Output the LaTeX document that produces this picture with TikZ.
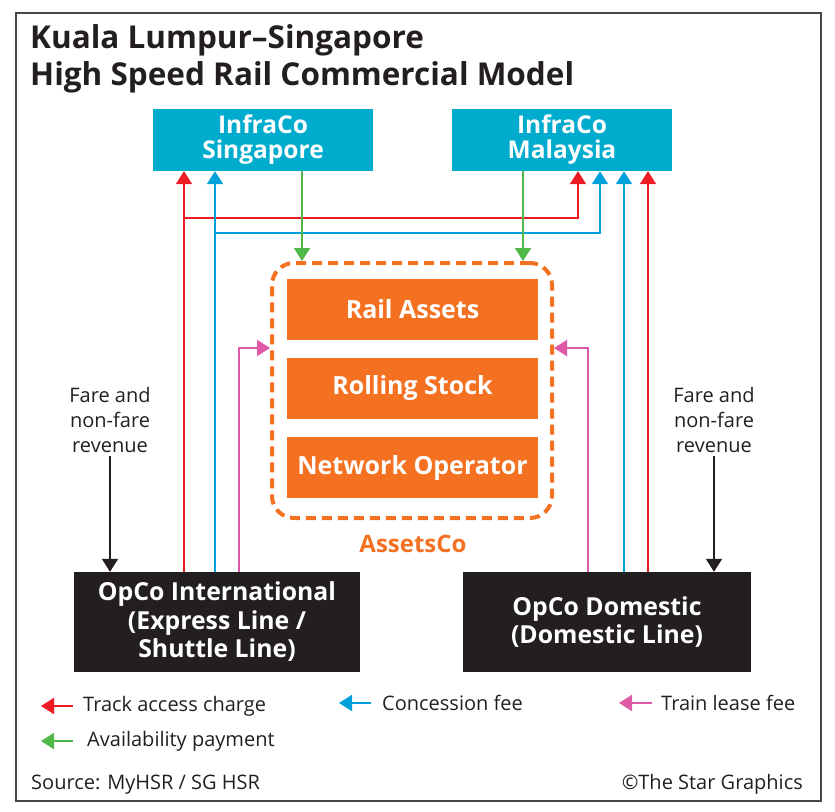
\documentclass[tikz,border=0pt]{standalone}
\usepackage{fontspec}
\setmainfont{Open Sans}
\usetikzlibrary{positioning,calc,arrows.meta}
\definecolor{infracyan}{RGB}{0,172,205}
\definecolor{assetorange}{RGB}{243,113,33}
\definecolor{trackred}{RGB}{237,28,36}
\definecolor{feeblue}{RGB}{0,160,218}
\definecolor{paygreen}{RGB}{80,184,72}
\definecolor{leasepink}{RGB}{222,89,166}
\definecolor{opcoblack}{RGB}{35,31,32}
\definecolor{framegray}{RGB}{70,70,70}

\begin{document}
\begin{tikzpicture}[x=1pt,y=-1pt]
		\tikzset{
			infrabox/.style={fill=infracyan,text=white,font=\bfseries\fontsize{24.5}{25}\selectfont,align=center,minimum width=220pt,minimum height=62pt,inner sep=0pt},
			assetbox/.style={fill=assetorange,text=white,font=\bfseries\fontsize{25}{28}\selectfont,minimum width=251pt,minimum height=61pt,inner sep=0pt},
			assetsframe/.style={draw=assetorange,line width=4pt,dash pattern=on 10pt off 6pt,rounded corners=22pt,minimum width=280pt,minimum height=255pt},
			opcobox/.style={fill=opcoblack,text=white,font=\bfseries\fontsize{24.8}{28.5}\selectfont,align=center,minimum height=100pt,inner sep=0pt},
			faretext/.style={font=\fontsize{20}{25}\selectfont,align=center,text=opcoblack},
			legtext/.style={font=\fontsize{20}{24}\selectfont,text=opcoblack,anchor=west,inner sep=0pt},
			titletext/.style={font=\bfseries\fontsize{31.5}{36}\selectfont,text=opcoblack,anchor=base west,inner sep=0pt},
			flow/.style={line width=2pt,-{Triangle[width=16pt,length=13pt]}},
			legarrow/.style={line width=2pt,{Triangle[width=16pt,length=13pt]}-},
		}
		\useasboundingbox (0,0) rectangle (835,811);
		\draw[framegray,line width=1.3pt] (16,13) rectangle (821,801);

		\node[titletext] (title1) at (30,48) {Kuala Lumpur–Singapore};
		\node[titletext] (title2) at (30,85) {High Speed Rail Commercial Model};

		\node[infrabox] (sgp) at (263,140) {InfraCo\\Singapore};
		\node[infrabox] (mys) at (562,140) {InfraCo\\Malaysia};

		\node[assetbox] (rail) at (412.5,309.5) {Rail Assets};
		\node[assetbox] (rolling) at (412.5,388.5) {Rolling Stock};
		\node[assetbox] (netop) at (412.5,467.5) {Network Operator};
		\node[assetsframe] (assets) at (412,390.5) {};
		\node[font=\bfseries\fontsize{24}{28}\selectfont,text=assetorange] (assetsco) at (413,544) {AssetsCo};

		\node[opcobox,minimum width=286pt] (opint) at (217,622) {OpCo International\\(Express Line /\\Shuttle Line)};
		\node[opcobox,minimum width=288pt] (opdom) at (607,622) {OpCo Domestic\\(Domestic Line)};

		\node[faretext] (fareint) at (110,420) {Fare and\\non-fare\\revenue};
		\node[faretext] (faredom) at (714,420) {Fare and\\non-fare\\revenue};

		\coordinate (redL) at (184,0);
		\coordinate (blueL) at (215,0);
		\coordinate (pinkL) at (239,0);
		\coordinate (greenL) at (302,0);
		\coordinate (greenR) at (523,0);
		\coordinate (redM) at (578,0);
		\coordinate (blueM) at (600,0);
		\coordinate (pinkR) at (588,0);
		\coordinate (blueR) at (624,0);
		\coordinate (redR) at (648,0);
		\coordinate (redrow) at (0,218);
		\coordinate (bluerow) at (0,233);
		\coordinate (pinkrow) at (0,348);

		\draw[flow,trackred] (opint.north -| redL) -- (sgp.south -| redL);
		\draw[flow,trackred] (redrow -| redL) -| (mys.south -| redM);
		\draw[flow,feeblue] (opint.north -| blueL) -- (sgp.south -| blueL);
		\draw[flow,feeblue] (bluerow -| blueL) -| (mys.south -| blueM);
		\draw[flow,leasepink] (opint.north -| pinkL) |- (assets.west |- pinkrow);

		\draw[flow,leasepink] (opdom.north -| pinkR) |- (assets.east |- pinkrow);
		\draw[flow,feeblue] (opdom.north -| blueR) -- (mys.south -| blueR);
		\draw[flow,trackred] (opdom.north -| redR) -- (mys.south -| redR);

		\draw[flow,paygreen] (sgp.south -| greenL) -- (assets.north -| greenL);
		\draw[flow,paygreen] (mys.south -| greenR) -- (assets.north -| greenR);

		\draw[flow,opcoblack] (fareint.south) -- (fareint.south |- opint.north);
		\draw[flow,opcoblack] (faredom.south) -- (faredom.south |- opdom.north);

		\node[legtext] (lgtrack) at (83,706) {Track access charge};
		\node[legtext] (lgavail) at (87,741) {Availability payment};
		\node[legtext] (lgconc) at (382,703) {Concession fee};
		\node[legtext] (lglease) at (661,703) {Train lease fee};
		\draw[legarrow,trackred] ([xshift=-42pt]lgtrack.west) -- ([xshift=-10pt]lgtrack.west);
		\draw[legarrow,paygreen] ([xshift=-46pt]lgavail.west) -- ([xshift=-14pt]lgavail.west);
		\draw[legarrow,feeblue] ([xshift=-43pt]lgconc.west) -- ([xshift=-11pt]lgconc.west);
		\draw[legarrow,leasepink] ([xshift=-42pt]lglease.west) -- ([xshift=-9pt]lglease.west);

		\node[legtext,anchor=base west,font=\fontsize{20}{24}\selectfont] (source) at (31,789) {Source: MyHSR / SG HSR};
		\node[legtext,anchor=base east,font=\fontsize{20}{24}\selectfont] (credit) at (803,789) {©The Star Graphics};
	\end{tikzpicture}
\end{document}
